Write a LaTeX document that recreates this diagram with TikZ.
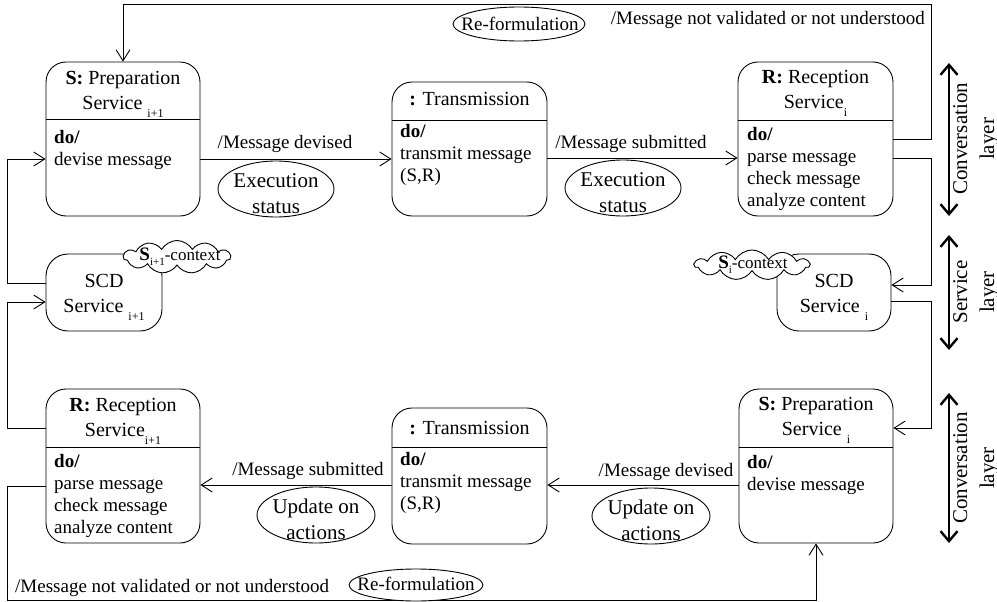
\documentclass[tikz,border=0pt]{standalone}
\usepackage{fontspec}
\setmainfont{Liberation Serif}
\usetikzlibrary{arrows.meta,shapes.geometric,shapes.symbols}
\newcommand{\mysub}[1]{\raisebox{-8pt}{\fontsize{12}{12}\selectfont #1}}
\newcommand{\mycsub}[1]{\raisebox{-5pt}{\fontsize{11}{11}\selectfont #1}}
\tikzset{
  statebox/.style={draw, line width=0.9pt, rounded corners=20pt, inner sep=0pt},
  divider/.style={line width=0.9pt},
  titletext/.style={font=\fontsize{20}{25}\selectfont, align=center, inner sep=0pt, anchor=base},
  bodytext/.style={font=\fontsize{19}{22}\selectfont, align=left, inner sep=0pt, anchor=base west},
  edgelabel/.style={font=\fontsize{19}{22}\selectfont, inner sep=0pt, anchor=base},
  conn/.style={draw, line width=0.9pt, -{Straight Barb[length=11pt,width=14pt]}},
  statusell/.style={draw, ellipse, line width=0.9pt, inner sep=0pt, fill=white},
  elltext/.style={font=\fontsize{21}{26}\selectfont, align=center, inner sep=0pt, anchor=base},
  ctxcloud/.style={draw, cloud, cloud puffs=11, cloud puff arc=120, aspect=3.4, line width=0.9pt, fill=white, inner sep=0pt},
  layerarrow/.style={line width=2.4pt, {Straight Barb[length=10pt,width=17pt]}-{Straight Barb[length=10pt,width=17pt]}},
  layertext/.style={font=\fontsize{21}{27}\selectfont, align=center, inner sep=0pt, rotate=90}
}
\begin{document}
\begin{tikzpicture}[x=1pt,y=-1pt]
\useasboundingbox (0,0) rectangle (997,602);

% ---- state boxes
\node[statebox, minimum width=154pt, minimum height=154pt] (ps1) at (123,139) {};
\node[statebox, minimum width=155pt, minimum height=134pt] (tr1) at (469.5,149) {};
\node[statebox, minimum width=155pt, minimum height=154pt] (rr1) at (815.5,139) {};
\node[statebox, minimum width=116pt, minimum height=77pt, rounded corners=22pt] (scd1) at (104,292.5) {};
\node[statebox, minimum width=114pt, minimum height=77pt, rounded corners=22pt] (scd2) at (834,292.5) {};
\node[statebox, minimum width=154pt, minimum height=154pt] (rs2) at (123,466) {};
\node[statebox, minimum width=155pt, minimum height=136pt] (tr2) at (469.5,476) {};
\node[statebox, minimum width=154pt, minimum height=154pt] (ps2) at (816,466) {};

% ---- dividers
\draw[divider] (ps1.west |- 0,119) -- (ps1.east |- 0,119);
\draw[divider] (tr1.west |- 0,120) -- (tr1.east |- 0,120);
\draw[divider] (rr1.west |- 0,120) -- (rr1.east |- 0,120);
\draw[divider] (rs2.west |- 0,447) -- (rs2.east |- 0,447);
\draw[divider] (tr2.west |- 0,447) -- (tr2.east |- 0,447);
\draw[divider] (ps2.west |- 0,447) -- (ps2.east |- 0,447);

% ---- box texts (anchor = baseline of the last line)
\node[titletext] (ps1t) at (123,110) {\textbf{S:} Preparation\\Service \mysub{i+1}};
\node[bodytext] (ps1b) at (54,165) {\textbf{do/}\\devise message};
\node[titletext] (tr1t) at (469.5,106) {\textbf{:} Transmission};
\node[bodytext] (tr1b) at (400,181) {\textbf{do/}\\transmit message\\(S,R)};
\node[titletext] (rr1t) at (815.5,109) {\textbf{R:} Reception\\Service\mysub{i}};
\node[bodytext] (rr1b) at (747,206) {\textbf{do/}\\parse message\\check message\\analyze content};
\node[titletext] (scd1t) at (104,312) {SCD\\Service \mysub{i+1}};
\node[titletext] (scd2t) at (834,312) {SCD\\Service \mysub{i}};
\node[titletext] (rs2t) at (123,436) {\textbf{R:} Reception\\Service\mysub{i+1}};
\node[bodytext] (rs2b) at (54,533) {\textbf{do/}\\parse message\\check message\\analyze content};
\node[titletext] (tr2t) at (469.5,434) {\textbf{:} Transmission};
\node[bodytext] (tr2b) at (400,509) {\textbf{do/}\\transmit message\\(S,R)};
\node[titletext] (ps2t) at (816,435) {\textbf{S:} Preparation\\Service \mysub{i}};
\node[bodytext] (ps2b) at (747,490) {\textbf{do/}\\devise message};

% ---- context clouds
\node[ctxcloud, minimum width=107pt, minimum height=33pt] (c1) at (177,257) {};
\node[inner sep=0pt] (c1t) at (180,257) {\fontsize{19}{19}\selectfont\textbf{S}\mycsub{i+1}\fontsize{17}{17}\selectfont-context};
\node[ctxcloud, minimum width=115pt, minimum height=30pt] (c2) at (752,265) {};
\node[inner sep=0pt] (c2t) at (753,265) {\fontsize{19}{19}\selectfont\textbf{S}\mycsub{i}\fontsize{17}{17}\selectfont-context};

% ---- named turning columns
\coordinate (colL) at (7,0);
\coordinate (colR) at (931,0);
\coordinate (topY) at (0,4);
\coordinate (botY) at (0,600);

% ---- connectors, upper row
\draw[conn] (ps1.east |- 0,159) -- (tr1.west |- 0,159);
\draw[conn] (tr1.east |- 0,158) -- (rr1.west |- 0,158);
\draw[conn] (rr1.east |- 0,139) -| (colR |- topY) -| (ps1.north);
\draw[conn] (rr1.east |- 0,158) -| (colR |- 0,285) -- (scd2.east |- 0,285);
\draw[conn] (scd2.east |- 0,301) -| (colR |- 0,428) -- (ps2.east |- 0,428);
% ---- connectors, lower row
\draw[conn] (ps2.west |- 0,485) -- (tr2.east |- 0,485);
\draw[conn] (tr2.west |- 0,485) -- (rs2.east |- 0,485);
\draw[conn] (rs2.west |- 0,428) -| (colL |- 0,302) -- (scd1.west |- 0,302);
\draw[conn] (scd1.west |- 0,283) -| (colL |- 0,159) -- (ps1.west |- 0,159);
\draw[conn] (rs2.west |- 0,486) -| (colL |- botY) -| (ps2.south);

% ---- connector labels
\node[edgelabel] (l1) at (285,149) {/Message devised};
\node[edgelabel] (l2) at (631,148) {/Message submitted};
\node[edgelabel] (l3) at (666,476) {/Message devised};
\node[edgelabel] (l4) at (308,475) {/Message submitted};
\node[edgelabel, anchor=base east] (l5) at (925,25) {/Message not validated or not understood};
\node[edgelabel, anchor=base west] (l6) at (15,592) {/Message not validated or not understood};

% ---- status ellipses
\node[statusell, minimum width=116pt, minimum height=56pt] (e1) at (276,189) {};
\node[elltext] (e1t) at (276,213) {Execution\\status};
\node[statusell, minimum width=116pt, minimum height=56pt] (e2) at (623,188) {};
\node[elltext] (e2t) at (623,212) {Execution\\status};
\node[statusell, minimum width=118pt, minimum height=56pt] (e3) at (316,515) {};
\node[elltext] (e3t) at (316,539) {Update on\\actions};
\node[statusell, minimum width=118pt, minimum height=56pt] (e4) at (651,516) {};
\node[elltext] (e4t) at (651,540) {Update on\\actions};
\node[statusell, minimum width=132pt, minimum height=34pt] (r1) at (519,24) {};
\node[edgelabel, anchor=center] (r1t) at (520,24) {Re-formulation};
\node[statusell, minimum width=134pt, minimum height=32pt] (r2) at (416,585) {};
\node[edgelabel, anchor=center] (r2t) at (416,584) {Re-formulation};

% ---- layer indicators
\coordinate (la1a) at (949,63);  \coordinate (la1b) at (949,216);
\coordinate (la2a) at (949,235); \coordinate (la2b) at (949,350);
\coordinate (la3a) at (949,393); \coordinate (la3b) at (949,543);
\draw[layerarrow] (la1a) -- (la1b);
\draw[layerarrow] (la2a) -- (la2b);
\draw[layerarrow] (la3a) -- (la3b);
\node[layertext] (lt1) at (976,139) {Conversation\\layer};
\node[layertext] (lt2) at (976,292) {Service\\layer};
\node[layertext] (lt3) at (976,468) {Conversation\\layer};
\end{tikzpicture}
\end{document}
